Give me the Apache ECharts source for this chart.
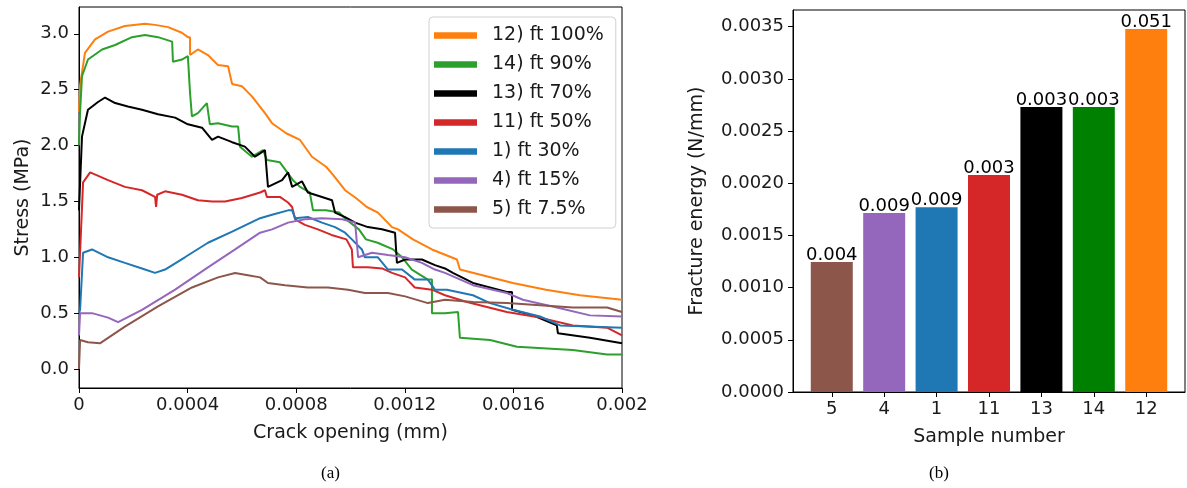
<!DOCTYPE html>
<html>
<head>
<meta charset="utf-8">
<script src="https://cdn.jsdelivr.net/npm/echarts@6/dist/echarts.min.js"></script>
<style>html,body{margin:0;padding:0;background:#fff}#c{width:1187px;height:488px}</style>
</head>
<body>
<div id="c"></div>
<script>
// ---------- Panel (a): stress vs crack opening ----------
const seriesNames = ['12) ft 100%', '14) ft 90%', '13) ft 70%', '11) ft 50%', '1) ft 30%', '4) ft 15%', '5) ft 7.5%'];
const seriesColors = ['#ff7f0e', '#2ca02c', '#000000', '#d62728', '#1f77b4', '#9467bd', '#8c564b'];

const s12 = [[0,2.30],[0.000004,2.54],[0.000022,2.83],[0.000059,2.95],[0.000107,3.02],[0.000169,3.07],[0.000243,3.09],[0.000280,3.08],[0.000328,3.06],[0.000379,3.01],[0.000401,2.97],[0.000409,2.97],[0.000409,2.81],[0.000438,2.86],[0.000475,2.81],[0.000512,2.72],[0.000549,2.71],[0.000564,2.55],[0.000600,2.53],[0.000637,2.44],[0.000685,2.29],[0.000711,2.20],[0.000763,2.11],[0.000814,2.05],[0.000858,1.90],[0.000910,1.81],[0.000935,1.74],[0.000980,1.60],[0.001020,1.53],[0.001060,1.45],[0.001101,1.40],[0.001153,1.27],[0.001175,1.25],[0.001230,1.16],[0.001300,1.07],[0.001392,0.98],[0.001403,0.89],[0.001598,0.77],[0.001720,0.71],[0.001845,0.66],[0.002,0.62]];
const s14 = [[0,2.00],[0.000004,2.30],[0.000011,2.62],[0.000033,2.77],[0.000085,2.86],[0.000133,2.90],[0.000195,2.97],[0.000243,2.99],[0.000291,2.97],[0.000343,2.93],[0.000346,2.75],[0.000379,2.77],[0.000401,2.80],[0.000409,2.47],[0.000416,2.26],[0.000438,2.29],[0.000471,2.38],[0.000475,2.39],[0.000482,2.19],[0.000512,2.20],[0.000564,2.17],[0.000586,2.17],[0.000593,1.99],[0.000637,1.90],[0.000678,1.96],[0.000692,1.87],[0.000740,1.85],[0.000788,1.69],[0.000814,1.63],[0.000850,1.58],[0.000862,1.42],[0.000910,1.42],[0.000958,1.40],[0.000983,1.34],[0.001031,1.25],[0.001057,1.16],[0.001100,1.13],[0.001157,1.07],[0.001190,1.00],[0.001226,0.89],[0.001285,0.80],[0.001300,0.80],[0.001300,0.50],[0.001348,0.50],[0.001396,0.51],[0.001403,0.28],[0.001514,0.26],[0.001613,0.20],[0.001819,0.17],[0.001945,0.13],[0.002,0.13]];
const s13 = [[0,1.42],[0.000011,2.08],[0.000033,2.32],[0.000070,2.39],[0.000096,2.43],[0.000133,2.38],[0.000180,2.35],[0.000232,2.32],[0.000291,2.28],[0.000354,2.25],[0.000401,2.19],[0.000453,2.16],[0.000490,2.05],[0.000512,2.08],[0.000564,2.03],[0.000611,1.99],[0.000648,1.90],[0.000667,1.93],[0.000685,1.96],[0.000696,1.63],[0.000748,1.69],[0.000770,1.76],[0.000785,1.63],[0.000821,1.68],[0.000843,1.58],[0.000895,1.54],[0.000932,1.51],[0.000943,1.40],[0.000980,1.36],[0.001017,1.31],[0.001064,1.27],[0.001116,1.25],[0.001164,1.22],[0.001171,0.95],[0.001201,0.98],[0.001263,0.98],[0.001311,0.93],[0.001348,0.90],[0.001377,0.86],[0.001451,0.77],[0.001576,0.69],[0.001595,0.69],[0.001595,0.53],[0.001672,0.48],[0.001760,0.39],[0.001764,0.32],[0.001882,0.28],[0.002,0.23]];
const s11 = [[0,0.82],[0.000015,1.67],[0.000041,1.76],[0.000107,1.69],[0.000169,1.63],[0.000232,1.60],[0.000280,1.54],[0.000284,1.45],[0.000288,1.56],[0.000317,1.59],[0.000379,1.56],[0.000438,1.51],[0.000490,1.50],[0.000538,1.50],[0.000600,1.53],[0.000667,1.58],[0.000685,1.60],[0.000692,1.54],[0.000740,1.54],[0.000770,1.49],[0.000785,1.45],[0.000796,1.34],[0.000832,1.29],[0.000880,1.25],[0.000930,1.20],[0.000985,1.16],[0.001005,1.07],[0.001009,0.91],[0.001064,0.91],[0.001116,0.90],[0.001153,0.86],[0.001201,0.82],[0.001237,0.73],[0.001300,0.71],[0.001348,0.66],[0.001429,0.60],[0.001576,0.51],[0.001698,0.46],[0.001819,0.39],[0.001945,0.37],[0.002,0.30]];
const s1 = [[0,0.50],[0.000004,0.53],[0.000015,1.04],[0.000048,1.07],[0.000107,1.00],[0.000169,0.95],[0.000232,0.90],[0.000280,0.86],[0.000317,0.89],[0.000390,1.00],[0.000475,1.13],[0.000564,1.23],[0.000667,1.35],[0.000711,1.38],[0.000770,1.42],[0.000785,1.42],[0.000796,1.35],[0.000843,1.36],[0.000895,1.31],[0.000943,1.27],[0.000980,1.22],[0.001005,1.16],[0.001042,1.07],[0.001053,1.00],[0.001101,1.00],[0.001138,0.89],[0.001190,0.89],[0.001237,0.80],[0.001285,0.80],[0.001311,0.71],[0.001355,0.71],[0.001451,0.66],[0.001514,0.59],[0.001598,0.53],[0.001698,0.47],[0.001772,0.39],[0.002,0.37]];
const s4 = [[0,0.30],[0.000004,0.50],[0.000048,0.50],[0.000107,0.46],[0.000144,0.42],[0.000232,0.53],[0.000354,0.71],[0.000475,0.91],[0.000575,1.07],[0.000667,1.22],[0.000711,1.25],[0.000770,1.31],[0.000832,1.34],[0.000895,1.35],[0.000969,1.34],[0.001017,1.31],[0.001028,1.00],[0.001079,1.04],[0.001138,1.02],[0.001201,1.00],[0.001263,0.95],[0.001311,0.89],[0.001348,0.86],[0.001451,0.75],[0.001576,0.68],[0.001635,0.62],[0.001760,0.55],[0.001882,0.48],[0.002,0.47]];
const s5 = [[0,0.00],[0.000004,0.26],[0.000033,0.24],[0.000077,0.23],[0.000169,0.38],[0.000291,0.56],[0.000416,0.73],[0.000512,0.82],[0.000575,0.86],[0.000622,0.84],[0.000667,0.82],[0.000696,0.77],[0.000759,0.75],[0.000843,0.73],[0.000917,0.73],[0.000991,0.71],[0.001053,0.68],[0.001138,0.68],[0.001201,0.65],[0.001285,0.59],[0.001348,0.62],[0.001451,0.60],[0.001576,0.59],[0.001698,0.57],[0.001819,0.55],[0.001945,0.55],[0.002,0.51]];
const seriesData = [s12, s14, s13, s11, s1, s4, s5];

const crackTicks = [0, 0.0004, 0.0008, 0.0012, 0.0016, 0.002];
const stressTicks = [0, 0.5, 1.0, 1.5, 2.0, 2.5, 3.0];

// ---------- Panel (b): fracture energy ----------
const samples = ['5', '4', '1', '11', '13', '14', '12'];
const energy = [0.001245, 0.001715, 0.00177, 0.002078, 0.00273, 0.00273, 0.003477];
const barLabels = ['0.004', '0.009', '0.009', '0.003', '0.003', '0.003', '0.051'];
const barColors = ['#8c564b', '#9467bd', '#1f77b4', '#d62728', '#000000', '#008000', '#ff7f0e'];
const energyTicks = [0, 0.0005, 0.0010, 0.0015, 0.0020, 0.0025, 0.0030, 0.0035];

const FONT = 'DejaVu Sans';
const TXT = '#1a1a1a';

const chart = echarts.init(document.getElementById('c'), null, {renderer: 'canvas'});

const lineSeries = seriesData.map((d, i) => ({
  type: 'line', name: seriesNames[i], xAxisIndex: 0, yAxisIndex: 0,
  data: d, showSymbol: false, symbol: 'none', animation: false,
  lineStyle: {color: seriesColors[i], width: 2}, itemStyle: {color: seriesColors[i]},
  clip: true
}));

const barSeries = {
  type: 'bar', xAxisIndex: 1, yAxisIndex: 1, barWidth: 42, animation: false,
  data: energy.map((v, i) => ({value: [i, v], itemStyle: {color: barColors[i]}})),
  label: {show: true, position: 'top', distance: -2, fontFamily: FONT, fontSize: 18, color: '#000',
    formatter: p => barLabels[p.dataIndex]}
};

const axisCommon = {
  axisLine: {show: true, onZero: false, lineStyle: {color: '#000', width: 1}},
  axisTick: {show: true, length: 5, lineStyle: {color: '#000'}},
  splitLine: {show: false},
  nameTextStyle: {fontFamily: FONT, fontSize: 19, color: TXT},
};

chart.setOption({
  animation: false,
  textStyle: {fontFamily: FONT},
  grid: [
    {left: 79, top: 7, width: 543, height: 381, show: true, borderColor: '#000', borderWidth: 1, backgroundColor: 'transparent'},
    {left: 793, top: 10, width: 392, height: 382, show: true, borderColor: '#000', borderWidth: 1, backgroundColor: 'transparent'}
  ],
  legend: {
    data: seriesNames, left: 429, top: 17, orient: 'vertical',
    itemWidth: 43, itemHeight: 14, itemGap: 10,
    padding: [9, 12, 9, 5],
    borderColor: '#d0d0d0', borderWidth: 1, borderRadius: 4, backgroundColor: 'rgba(255,255,255,0.8)',
    textStyle: {fontFamily: FONT, fontSize: 19, color: TXT, padding: [0, 0, 0, 10]},
    icon: 'path://M0,0 L10,0 L10,1.5 L0,1.5 Z'
  },
  xAxis: [
    Object.assign({}, axisCommon, {
      type: 'value', gridIndex: 0, min: 0, max: 0.002,
      name: 'Crack opening (mm)', nameLocation: 'middle', nameGap: 36,
      axisTick: {show: true, length: 5, lineStyle: {color: '#000'}, customValues: crackTicks},
      axisLabel: {customValues: crackTicks, margin: 8, fontFamily: FONT, fontSize: 18, color: TXT,
        formatter: v => v === 0 ? '0' : String(+v.toFixed(4))}
    }),
    Object.assign({}, axisCommon, {
      type: 'value', gridIndex: 1, min: -0.74, max: 6.74,
      name: 'Sample number', nameLocation: 'middle', nameGap: 36,
      axisTick: {show: true, length: 5, lineStyle: {color: '#000'}, customValues: samples.map((s, i) => i)},
      axisLabel: {customValues: samples.map((s, i) => i), margin: 8, fontFamily: FONT, fontSize: 18, color: TXT,
        formatter: v => samples[Math.round(v)]}
    })
  ],
  yAxis: [
    Object.assign({}, axisCommon, {
      type: 'value', gridIndex: 0, min: -0.17, max: 3.24,
      name: 'Stress (MPa)', nameLocation: 'middle', nameGap: 46,
      axisTick: {show: true, length: 5, lineStyle: {color: '#000'}, customValues: stressTicks},
      axisLabel: {customValues: stressTicks, margin: 10, fontFamily: FONT, fontSize: 18, color: TXT,
        formatter: v => v.toFixed(1)}
    }),
    Object.assign({}, axisCommon, {
      type: 'value', gridIndex: 1, min: 0, max: 0.00366,
      name: 'Fracture energy (N/mm)', nameLocation: 'middle', nameGap: 86,
      axisTick: {show: true, length: 5, lineStyle: {color: '#000'}, customValues: energyTicks},
      axisLabel: {customValues: energyTicks, margin: 9, fontFamily: FONT, fontSize: 18, color: TXT,
        formatter: v => v.toFixed(4)}
    })
  ],
  series: lineSeries.concat([barSeries]),
  graphic: [
    {type: 'text', left: 321, top: 465, style: {text: '(a)', font: '17px "Liberation Serif"', fill: '#000'}},
    {type: 'text', left: 929, top: 465, style: {text: '(b)', font: '17px "Liberation Serif"', fill: '#000'}}
  ]
});
</script>
</body>
</html>
